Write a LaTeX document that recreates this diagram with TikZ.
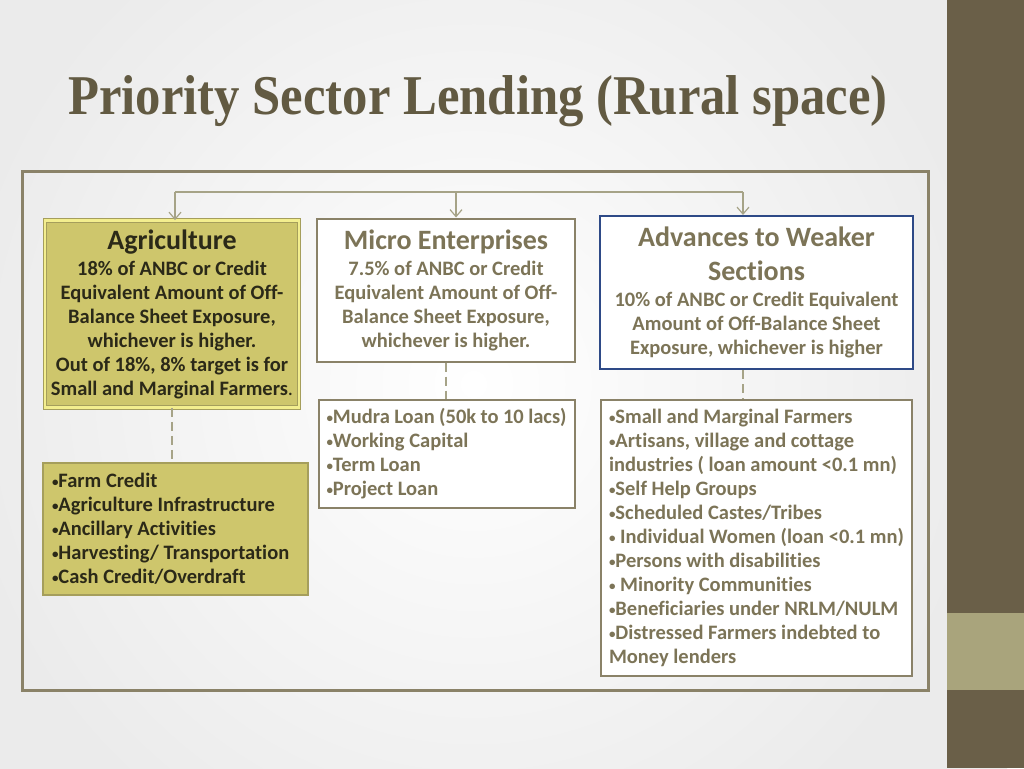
\documentclass[tikz,border=0pt]{standalone}
\usepackage{fontspec}
\setmainfont{Carlito}[Ligatures={NoCommon}]
\newfontfamily\titlefont{Liberation Serif}
\usetikzlibrary{arrows.meta}

\definecolor{bandbrown}{HTML}{6A5F48}
\definecolor{bandlight}{HTML}{A9A47C}
\definecolor{framebrown}{HTML}{8A8268}
\definecolor{linkgray}{HTML}{A6A387}
\definecolor{titlebrown}{HTML}{625A42}
\definecolor{textolive}{HTML}{7C7457}
\definecolor{textdark}{HTML}{2B2918}
\definecolor{agrifill}{HTML}{CEC66C}
\definecolor{agriedge}{HTML}{F3EE8E}
\definecolor{farmedge}{HTML}{A59E5C}
\definecolor{navyedge}{HTML}{2E4A87}

\newcommand\bul{\raisebox{1.5pt}{\fontsize{13}{13}\selectfont •}}
\newcommand\headfont{\fontsize{28}{34}\selectfont}

\tikzset{
  headbox/.style={draw=framebrown, line width=2pt, fill=white, align=center,
    text=textolive, font=\fontsize{20.5}{24}\selectfont\bfseries, inner sep=0pt},
  listbox/.style={draw=framebrown, line width=2pt, fill=white, align=flush left,
    text=textolive, font=\fontsize{20.5}{24}\selectfont\bfseries,
    inner xsep=8pt, inner ysep=0pt},
  linkline/.style={draw=linkgray, line width=1.2pt},
  dashline/.style={linkline, dash pattern=on 9pt off 5pt},
  tapline/.style={linkline, -{Straight Barb[length=7pt,width=12pt,line width=1.2pt]}},
}

\begin{document}
\begin{tikzpicture}[x=1pt,y=-1pt]
  % fondo
  \useasboundingbox (0,0) rectangle (1024,768);
  \shade[inner color=white, outer color=black!8] (-60,-160) rectangle (1007,928);
  \fill[bandbrown] (947,0) rectangle (1024,768);
  \fill[bandlight] (947,613) rectangle (1024,690);

  % titolo
  \node[anchor=base, text=titlebrown, inner sep=0pt] (title) at (478,114)
    {\titlefont\bfseries\scalebox{0.975}[1.08]{\fontsize{52}{56}\selectfont Priority Sector Lending (Rural space)}};

  % cornice
  \draw[framebrown, line width=3pt] (22,171) rectangle (928,690);

  % riquadri superiori
  \node[headbox, text=textdark, fill=agrifill, draw=farmedge, line width=0.8pt,
        double=agriedge, double distance=2.5pt,
        minimum width=254pt, minimum height=187pt] (agri) at (172,314)
    {{\headfont Agriculture}\\[2pt]
     18\% of ANBC or Credit\\
     Equivalent Amount of Off-\\
     Balance Sheet Exposure,\\
     whichever is higher.\\
     Out of 18\%, 8\% target is for\\
     Small and Marginal Farmers{\mdseries .}};
  \node[headbox, minimum width=258pt, minimum height=143pt] (micro) at (446,290)
    {{\headfont Micro Enterprises}\\[2pt]
     7.5\% of ANBC or Credit\\
     Equivalent Amount of Off-\\
     Balance Sheet Exposure,\\
     whichever is higher.};
  \node[headbox, draw=navyedge, minimum width=313pt, minimum height=153pt] (adv) at (756.5,292.5)
    {{\headfont Advances to Weaker}\\[10pt]
     {\headfont Sections}\\[2pt]
     10\% of ANBC or Credit Equivalent\\
     Amount of Off-Balance Sheet\\
     Exposure, whichever is higher};

  % riquadri degli elenchi
  \node[listbox, text=textdark, fill=agrifill, draw=farmedge, text width=247pt,
        inner xsep=9pt, minimum height=132pt] (farm) at (175.5,529)
    {\bul Farm Credit\\
     \bul Agriculture Infrastructure\\
     \bul Ancillary Activities\\
     \bul Harvesting/ Transportation\\
     \bul Cash Credit/Overdraft};
  \node[listbox, text width=240pt, minimum height=108pt] (mlist) at (446.5,454)
    {\bul Mudra Loan (50k to 10 lacs)\\
     \bul Working Capital\\
     \bul Term Loan\\
     \bul Project Loan};
  \node[listbox, text width=295pt, minimum height=276pt] (wlist) at (756.5,538)
    {\bul Small and Marginal Farmers\\
     \bul Artisans, village and cottage\\
     industries ( loan amount <0.1 mn)\\
     \bul Self Help Groups\\
     \bul Scheduled Castes/Tribes\\
     \bul{} Individual Women (loan <0.1 mn)\\
     \bul Persons with disabilities\\
     \bul{} Minority Communities\\
     \bul Beneficiaries under NRLM/NULM\\
     \bul Distressed Farmers indebted to\\
     Money lenders};

  % collegamenti
  \coordinate (tapA) at (175,192);
  \coordinate (tapM) at (456,192);
  \coordinate (tapW) at (743,192);
  \draw[linkline] (tapA) -- (tapW);
  \draw[tapline] (tapA) -- (tapA |- agri.north);
  \draw[tapline] (tapM) -- (tapM |- micro.north);
  \draw[tapline] (tapW) -- (tapW |- adv.north);

  \draw[dashline] (agri.south) -- (agri.south |- farm.north);
  \draw[dashline] (micro.south) -- (micro.south |- mlist.north);
  \draw[dashline] (tapW |- adv.south) -- (tapW |- wlist.north);
\end{tikzpicture}
\end{document}
